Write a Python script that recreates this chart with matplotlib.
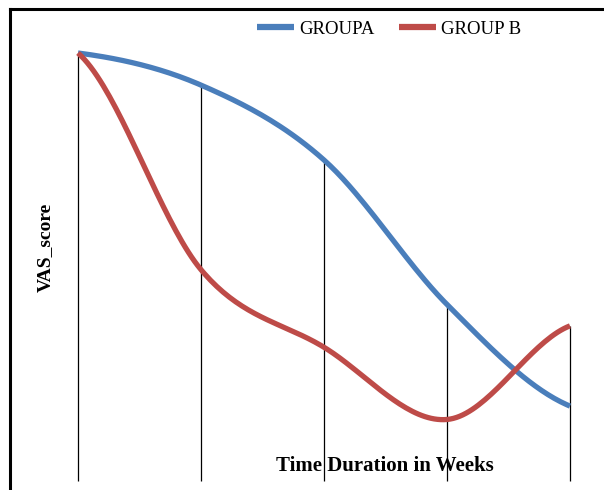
import numpy as np
import matplotlib.pyplot as plt
from matplotlib.lines import Line2D

weeks = [0, 1, 2, 3, 4]
group_a = [8.0, 7.4, 6.0, 3.3, 1.4]
group_b = [8.0, 3.95, 2.5, 1.15, 2.9]
labels = ['GROUPA', 'GROUP B']
colors = ['#4A7EBB', '#BE4B48']


def smooth(x, y, n=40):
    # catmull-rom through the points, like excel's smoothed line
    x = np.asarray(x, float)
    y = np.asarray(y, float)
    px = np.concatenate([[2 * x[0] - x[1]], x, [2 * x[-1] - x[-2]]])
    py = np.concatenate([[y[0]], y, [y[-1]]])
    xs, ys = [], []
    for i in range(1, len(px) - 2):
        t = np.linspace(0, 1, n)
        for p, out in ((px, xs), (py, ys)):
            p0, p1, p2, p3 = p[i - 1], p[i], p[i + 1], p[i + 2]
            m1 = (p2 - p0) / 2
            m2 = (p3 - p1) / 2
            h00 = 2 * t**3 - 3 * t**2 + 1
            h10 = t**3 - 2 * t**2 + t
            h01 = -2 * t**3 + 3 * t**2
            h11 = t**3 - t**2
            out.extend(h00 * p1 + h10 * m1 + h01 * p2 + h11 * m2)
    return np.array(xs), np.array(ys)


fig = plt.figure(figsize=(6.04, 4.9), dpi=100)
W, H = 604, 490
ax = fig.add_axes([78 / W, 9 / H, (570 - 78) / W, (481 - 9) / H])
ax.set_xlim(0, 4)
ax.set_ylim(0, 8 * (481 - 9) / (481 - 53))

tops = np.maximum(group_a, group_b)
ax.vlines(weeks, 0, tops, color='black', lw=0.9, zorder=1, clip_on=False)

for vals, lab, c in zip([group_a, group_b], labels, colors):
    sx, sy = smooth(weeks, vals)
    ax.plot(sx, sy, color=c, lw=3.8, label=lab, clip_on=False,
            solid_capstyle='butt', zorder=2)

for s in ax.spines.values():
    s.set_visible(False)
ax.set_xticks([])
ax.set_yticks([])

leg = fig.legend(loc='center', bbox_to_anchor=(389 / W, 1 - 29 / H), ncol=2,
                 frameon=False, prop={'family': 'Liberation Serif', 'size': 13.5},
                 handlelength=2.0, handletextpad=0.25, columnspacing=1.3)
for h in leg.legend_handles:
    h.set_linewidth(4.5)

fig.text(45 / W, 1 - 247 / H, 'VAS_score', rotation=90, ha='center', va='center',
         family='Liberation Serif', weight='bold', size=14)
fig.text(385 / W, 1 - 466 / H, 'Time Duration in Weeks', ha='center', va='center',
         family='Liberation Serif', weight='bold', size=15)

# frame edges of the cropped chart
fig.add_artist(Line2D([10 / W, 1], [1 - 9 / H, 1 - 9 / H], color='black', lw=2.2))
fig.add_artist(Line2D([10 / W, 10 / W], [0, 1 - 9 / H], color='black', lw=2.2))

fig.savefig('out.png', dpi=100, facecolor='white')
